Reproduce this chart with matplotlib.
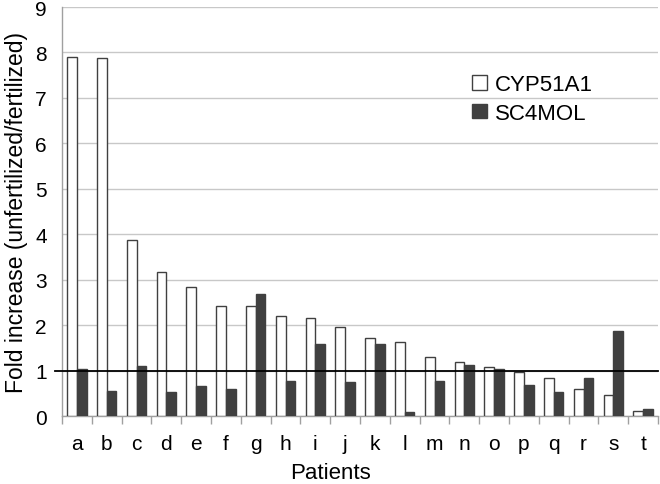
import numpy as np
import matplotlib.pyplot as plt

plt.rcParams['font.family'] = ['Liberation Sans', 'DejaVu Sans']

patients = list("abcdefghijklmnopqrst")
cyp51a1 = [7.90, 7.88, 3.88, 3.18, 2.84, 2.42, 2.42, 2.20, 2.15, 1.95,
           1.71, 1.62, 1.31, 1.20, 1.07, 0.98, 0.84, 0.60, 0.47, 0.11]
sc4mol = [1.03, 0.55, 1.10, 0.53, 0.67, 0.60, 2.68, 0.78, 1.58, 0.76,
          1.59, 0.08, 0.77, 1.12, 1.03, 0.69, 0.53, 0.84, 1.87, 0.15]

fig = plt.figure(figsize=(6.6, 4.85), dpi=100)
ax = fig.add_axes([0.094, 0.140, 0.903, 0.8435])

x = np.arange(len(patients))
w = 0.325
ax.bar(x - w / 2, cyp51a1, w, color='white', edgecolor='#404040', linewidth=1.0,
       label='CYP51A1', zorder=3)
ax.bar(x + w / 2, sc4mol, w, color='#404040', edgecolor='#404040', linewidth=1.0,
       label='SC4MOL', zorder=3)

# reference line at fold increase = 1
ax.axhline(1, xmin=-0.012, xmax=1, color='black', linewidth=1.3, zorder=4, clip_on=False)

ax.set_xlim(-0.5, len(patients) - 0.5)
ax.set_ylim(0, 9)
ax.set_yticks(range(10))
ax.yaxis.grid(True, color='#c8c8c8', linewidth=1.0, zorder=0)
ax.set_axisbelow(True)

ax.set_xticks(x)
ax.set_xticklabels(patients)
ax.set_xticks(np.arange(-0.5, len(patients)), minor=True)
ax.tick_params(axis='x', which='major', length=0, pad=13, labelsize=15)
ax.tick_params(axis='x', which='minor', length=6, color='#a0a0a0', width=1)
ax.tick_params(axis='y', length=0, pad=11, labelsize=15)

for s in ['top', 'right']:
    ax.spines[s].set_visible(False)
for s in ['left', 'bottom']:
    ax.spines[s].set_color('#a0a0a0')
    ax.spines[s].set_linewidth(1.0)

fig.text(0.5, 0.012, 'Patients', fontsize=16, ha='center', va='baseline')
ax.set_ylabel('Fold increase (unfertilized/fertilized)', fontsize=16.5, labelpad=5)

ax.legend(loc='upper left', bbox_to_anchor=(0.655, 0.885), frameon=False,
          fontsize=16, handlelength=0.65, handleheight=0.65, handletextpad=0.35,
          labelspacing=0.35)

fig.savefig('out.png', dpi=100)
